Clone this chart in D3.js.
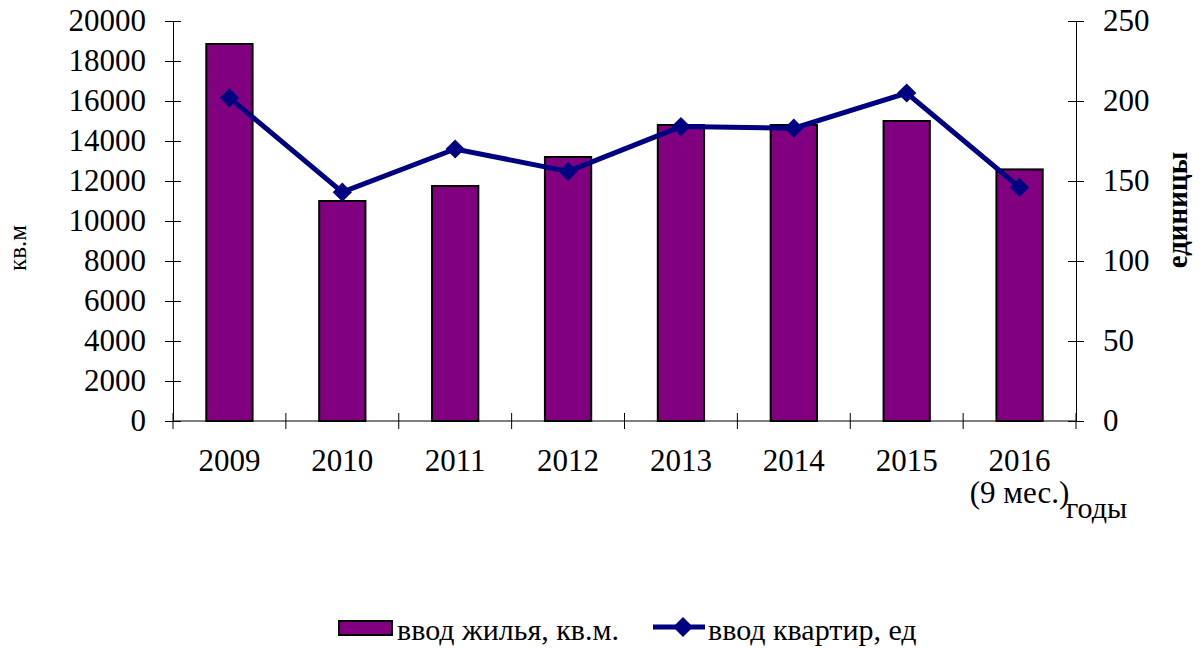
<!DOCTYPE html>
<html>
<head>
<meta charset="utf-8">
<title>ввод жилья и квартир</title>
<script src="https://cdn.jsdelivr.net/npm/d3@7"></script>
<style>
  body { margin: 0; background: #fff; }
  svg text { font-family: "Liberation Serif", "Times New Roman", serif; fill: #000; }
</style>
</head>
<body>
<div id="chart"></div>
<script>
  // данные
  const years = ["2009", "2010", "2011", "2012", "2013", "2014", "2015", "2016\n(9 мес.)"]
  const area = [18850, 11000, 11750, 13200, 14800, 14800, 15000, 12580]  // кв.м
  const flats = [202, 143, 170, 156, 184, 183, 205, 146]               // единицы
  const areaTicks = [0, 2000, 4000, 6000, 8000, 10000, 12000, 14000, 16000, 18000, 20000]
  const flatTicks = [0, 50, 100, 150, 200, 250]

  const width = 1202
  const height = 648
  const pL = 173, pR = 1076, pT = 21, pB = 421
  const fs = 30

  const svg = d3.select("#chart").append("svg")
    .attr("width", width)
    .attr("height", height)

  const x = d3.scaleBand().domain(years).range([pL, pR])
    .paddingInner(0.59).paddingOuter(0.295)
  const yL = d3.scaleLinear().domain([0, 20000]).range([pB, pT])
  const yR = d3.scaleLinear().domain([0, 250]).range([pB, pT])

  //бары
  svg.append("g").selectAll("rect").data(area).join("rect")
    .attr("x", (d, i) => x(years[i]))
    .attr("y", d => yL(d))
    .attr("width", x.bandwidth())
    .attr("height", d => yL(0) - yL(d))
    .attr("fill", "#800080")
    .attr("stroke", "#000")
    .attr("stroke-width", 2)

  //оси
  const axL = svg.append("g").attr("transform", `translate(${pL},0)`)
    .call(d3.axisLeft(yL).tickValues(areaTicks).tickSize(8).tickSizeOuter(0).tickPadding(19).tickFormat(d3.format("d")))
  axL.selectAll(".tick line").attr("x2", -8).attr("x1", 8)
  const axR = svg.append("g").attr("transform", `translate(${pR},0)`)
    .call(d3.axisRight(yR).tickValues(flatTicks).tickSize(8).tickSizeOuter(0).tickPadding(19))
  axR.selectAll(".tick line").attr("x1", -8).attr("x2", 8)
  svg.selectAll(".domain").attr("stroke", "#000")
  svg.selectAll(".tick line").attr("stroke", "#000")
  svg.selectAll(".tick text").attr("font-size", fs + 1).attr("font-family", "Liberation Serif").attr("fill", "#000")

  // ось X
  svg.append("line")
    .attr("x1", pL).attr("x2", pR)
    .attr("y1", pB).attr("y2", pB)
    .attr("stroke", "#000")
  svg.append("g").selectAll("line").data(d3.range(years.length + 1)).join("line")
    .attr("x1", i => pL + i * x.step()).attr("x2", i => pL + i * x.step())
    .attr("y1", pB - 8).attr("y2", pB + 8)
    .attr("stroke", "#000")
  const xl = svg.append("g").selectAll("text").data(years).join("text")
    .attr("x", d => x(d) + x.bandwidth() / 2)
    .attr("y", 471)
    .attr("text-anchor", "middle")
    .attr("font-size", fs + 1)
  xl.selectAll("tspan").data(d => d.split("\n")).join("tspan")
    .attr("x", function () { return this.parentNode.getAttribute("x") })
    .attr("dy", (d, i) => i == 0 ? 0 : 32)
    .text(d => d)

  // подписи осей
  svg.append("text").text("годы")
    .attr("x", 1066).attr("y", 518)
    .attr("font-size", fs)
  svg.append("text").text("кв.м")
    .attr("transform", `translate(26,248) rotate(-90)`)
    .attr("text-anchor", "middle")
    .attr("font-size", 25)
  svg.append("text").text("единицы")
    .attr("transform", `translate(1187,210) rotate(-90)`)
    .attr("text-anchor", "middle")
    .attr("font-size", 29)
    .attr("font-weight", "bold")

  //линия
  const cx = (d, i) => x(years[i]) + x.bandwidth() / 2
  svg.append("path").datum(flats)
    .attr("d", d3.line().x(cx).y(d => yR(d)))
    .attr("fill", "none")
    .attr("stroke", "#000080")
    .attr("stroke-width", 5)
  const diamond = d3.symbol(d3.symbolSquare, 185)
  svg.append("g").selectAll("path").data(flats).join("path")
    .attr("d", diamond)
    .attr("transform", (d, i) => `translate(${cx(d, i)},${yR(d)}) rotate(45)`)
    .attr("fill", "#000080")

  //легенда
  const lg = svg.append("g")
  lg.append("rect")
    .attr("x", 339).attr("y", 621).attr("width", 53).attr("height", 14)
    .attr("fill", "#800080").attr("stroke", "#000").attr("stroke-width", 2)
  lg.append("text").text("ввод жилья, кв.м.")
    .attr("x", 397).attr("y", 640).attr("font-size", fs)
  lg.append("line")
    .attr("x1", 653).attr("x2", 705).attr("y1", 627).attr("y2", 627)
    .attr("stroke", "#000080").attr("stroke-width", 5)
  lg.append("path")
    .attr("d", d3.symbol(d3.symbolSquare, 200))
    .attr("transform", `translate(683,627) rotate(45)`)
    .attr("fill", "#000080")
  lg.append("text").text("ввод квартир, ед")
    .attr("x", 708).attr("y", 640).attr("font-size", fs)
</script>
</body>
</html>
